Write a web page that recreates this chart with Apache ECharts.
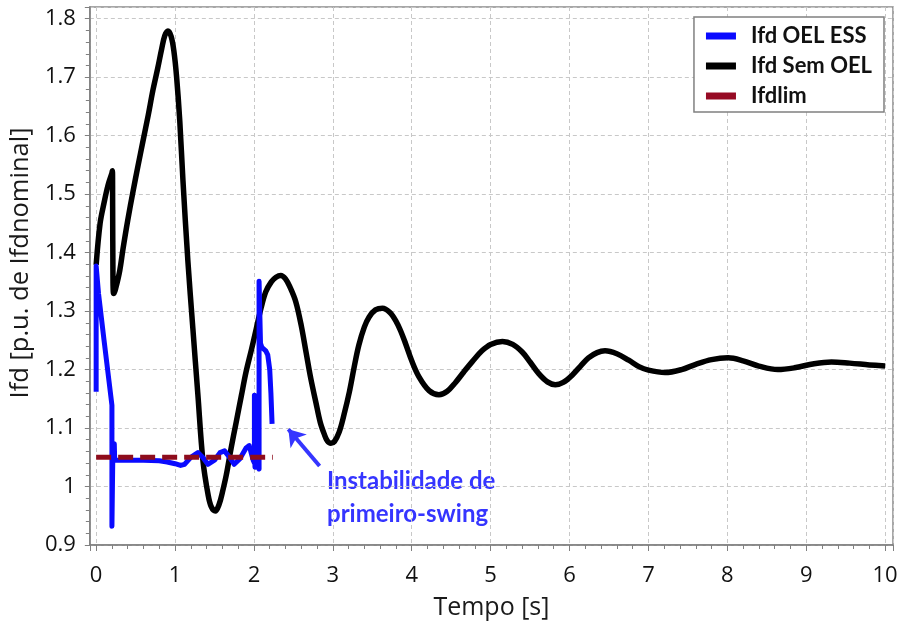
<!DOCTYPE html>
<html><head><meta charset="utf-8">
<script src="https://cdn.jsdelivr.net/npm/echarts@6/dist/echarts.min.js"></script>
<style>html,body{margin:0;padding:0;background:#fff}#c{width:903px;height:626px}</style>
</head><body><div id="c"></div>
<script>
// ---- data ----
const seriesNames = ['Ifd OEL ESS', 'Ifd Sem OEL', 'Ifdlim'];
const xTitle = 'Tempo [s]';
const yTitle = 'Ifd [p.u. de Ifdnominal]';
const noteLines = ['Instabilidade de', 'primeiro-swing'];

const semOelT = [0,0.05,0.1,0.15,0.2,0.206,0.209,0.213,0.217,0.225,0.25,0.3,0.34,0.4,0.468,0.53,0.594,0.66,0.72,0.78,0.83,0.87,0.91,0.95,0.985,1.02,1.06,1.1,1.163,1.226,1.29,1.353,1.42,1.46,1.51,1.56,1.6,1.65,1.71,1.775,1.84,1.9,1.97,2.03,2.09,2.15,2.22,2.28,2.34,2.4,2.46,2.53,2.6,2.66,2.72,2.785,2.84,2.89,2.93,2.975,3.02,3.08,3.14,3.21,3.27,3.33,3.4,3.46,3.54,3.63,3.72,3.8,3.86,3.92,4.0,4.09,4.22,4.345,4.45,4.555,4.66,4.77,4.89,5.0,5.15,5.28,5.4,5.5,5.61,5.72,5.82,5.92,6.03,6.14,6.24,6.35,6.45,6.6,6.75,6.88,7.0,7.21,7.42,7.6,7.8,8.01,8.2,8.4,8.64,8.85,9.1,9.32,9.55,9.8,10.0];
const semOelV = [1.379,1.45,1.485,1.515,1.536,1.54,1.48,1.36,1.333,1.33,1.34,1.37,1.406,1.455,1.505,1.548,1.591,1.635,1.678,1.715,1.748,1.771,1.779,1.77,1.745,1.7,1.625,1.524,1.385,1.27,1.156,1.045,0.985,0.965,0.958,0.97,0.99,1.02,1.065,1.11,1.155,1.196,1.235,1.27,1.305,1.333,1.35,1.358,1.361,1.355,1.34,1.316,1.275,1.23,1.185,1.144,1.11,1.09,1.078,1.074,1.077,1.093,1.122,1.162,1.204,1.242,1.273,1.29,1.302,1.305,1.298,1.283,1.266,1.245,1.215,1.188,1.164,1.157,1.163,1.178,1.196,1.214,1.232,1.243,1.248,1.243,1.23,1.213,1.193,1.179,1.174,1.178,1.19,1.206,1.22,1.229,1.232,1.227,1.216,1.205,1.199,1.195,1.2,1.209,1.217,1.22,1.215,1.206,1.2,1.203,1.21,1.213,1.211,1.208,1.206];

const oelEssT = [0,0,0.03,0.1,0.2,0.2,0.21,0.228,0.23,0.235,0.26,0.4,0.6,0.8,0.9,1.0,1.07,1.12,1.2,1.29,1.35,1.416,1.5,1.57,1.627,1.69,1.75,1.82,1.9,1.94,1.97,1.99,2.006,2.006,2.013,2.013,2.04,2.065,2.065,2.073,2.083,2.1,2.15,2.175,2.2,2.215,2.23];
const oelEssV = [1.162,1.377,1.33,1.25,1.139,0.932,1.04,1.042,1.073,1.045,1.043,1.045,1.045,1.044,1.042,1.039,1.036,1.038,1.05,1.058,1.05,1.038,1.045,1.058,1.061,1.05,1.038,1.047,1.066,1.07,1.055,1.045,1.04,1.156,1.156,1.033,1.035,1.03,1.351,1.351,1.245,1.238,1.232,1.225,1.2,1.16,1.107];

const limT = [0, 2.24];
const limV = [1.05, 1.05];

const arrowTail = [2.832, 1.035];
const arrowTip = [2.436, 1.098];

// ---- chart ----
const zip = (a, b) => a.map((t, i) => [t, b[i]]);
const chart = echarts.init(document.getElementById('c'), null, {renderer: 'canvas'});
const axisGray = '#808080';
const gridDash = {color: '#c8c8c8', width: 1, type: [4, 3]};
const tickFont = {fontFamily: 'Open Sans', fontSize: 22, color: '#111'};
const blue = '#0a0aff';
const noteBlue = '#3535ff';

chart.setOption({
  animation: false,
  grid: {left: 87, right: 10, top: 7, bottom: 81, show: true, borderColor: '#8a8a8a', borderWidth: 1.5},
  legend: {
    data: seriesNames, orient: 'vertical', right: 19, top: 17,
    backgroundColor: '#fff', borderColor: '#808080', borderWidth: 1.5, borderRadius: 0,
    padding: [8, 12, 5, 12], itemGap: 8, itemWidth: 30, itemHeight: 7, icon: 'rect',
    textStyle: {fontFamily: 'Lato', fontWeight: 'bold', fontSize: 22, color: '#111', lineHeight: 22, padding: [0, 0, 0, 10]}
  },
  xAxis: [
    {
      type: 'value', min: -0.08, max: 10.1, splitNumber: 10,
      axisLine: {show: true, onZero: false, lineStyle: {color: axisGray, width: 1.5}},
      axisTick: {show: true, length: 6, lineStyle: {color: axisGray}},
      axisLabel: Object.assign({margin: 20, formatter: v => Math.abs(v - Math.round(v)) < 1e-6 ? String(Math.round(v)) : ''}, tickFont),
      splitLine: {show: true, lineStyle: gridDash},
      name: xTitle, nameLocation: 'middle', nameGap: 50,
      nameTextStyle: {fontFamily: 'Open Sans', fontSize: 25, color: '#1a1a1a'}
    },
    {
      type: 'value', min: -0.08, max: 10.1, splitNumber: 51, position: 'bottom',
      axisLine: {show: false, onZero: false},
      axisTick: {show: true, length: 4, lineStyle: {color: axisGray}},
      axisLabel: {show: false}, splitLine: {show: false}
    }
  ],
  yAxis: [
    {
      type: 'value', min: 0.9, max: 1.82, interval: 0.1,
      axisLine: {show: true, onZero: false, lineStyle: {color: axisGray, width: 1.5}},
      axisTick: {show: true, length: 5, lineStyle: {color: axisGray}},
      axisLabel: Object.assign({margin: 14, formatter: v => Math.abs(v * 10 - Math.round(v * 10)) < 1e-6 ? String(Math.round(v * 10) / 10) : ''}, tickFont),
      splitLine: {show: true, lineStyle: gridDash},
      name: yTitle, nameLocation: 'middle', nameGap: 45,
      nameTextStyle: {fontFamily: 'Open Sans', fontSize: 25.5, color: '#1a1a1a', padding: [0, 0, 0, 26]}
    },
    {
      type: 'value', min: 0.9, max: 1.82, interval: 0.02, position: 'left',
      axisLine: {show: false, onZero: false},
      axisTick: {show: true, length: 4, lineStyle: {color: axisGray}},
      axisLabel: {show: false}, splitLine: {show: false}
    }
  ],
  series: [
    {
      name: seriesNames[1], type: 'line', data: zip(semOelT, semOelV), showSymbol: false, symbol: 'none',
      smooth: 0.35, clip: false, lineStyle: {color: '#000', width: 5.5, join: 'round'}, itemStyle: {color: '#000'}
    },
    {
      name: seriesNames[0], type: 'line', data: zip(oelEssT, oelEssV), showSymbol: false, symbol: 'none',
      clip: false, lineStyle: {color: blue, width: 5, join: 'round'}, itemStyle: {color: blue},
      markLine: {
        silent: true, animation: false, symbol: ['none', 'arrow'], symbolSize: 16,
        label: {show: false}, lineStyle: {color: noteBlue, width: 4, type: 'solid'},
        emphasis: {disabled: true},
        data: [[{coord: arrowTail}, {coord: arrowTip}]]
      }
    },
    {
      name: seriesNames[2], type: 'line', data: zip(limT, limV), showSymbol: false, symbol: 'none',
      clip: false, lineStyle: {color: '#8e0c1c', width: 5, type: [15, 7]}, itemStyle: {color: '#960a24'}
    }
  ],
  graphic: [
    {type: 'text', x: 327, y: 481, style: {text: noteLines[0], font: 'bold 24px Lato', fill: noteBlue, verticalAlign: 'middle'}},
    {type: 'text', x: 327, y: 514, style: {text: noteLines[1], font: 'bold 24px Lato', fill: noteBlue, verticalAlign: 'middle'}}
  ]
});
</script>
</body></html>
